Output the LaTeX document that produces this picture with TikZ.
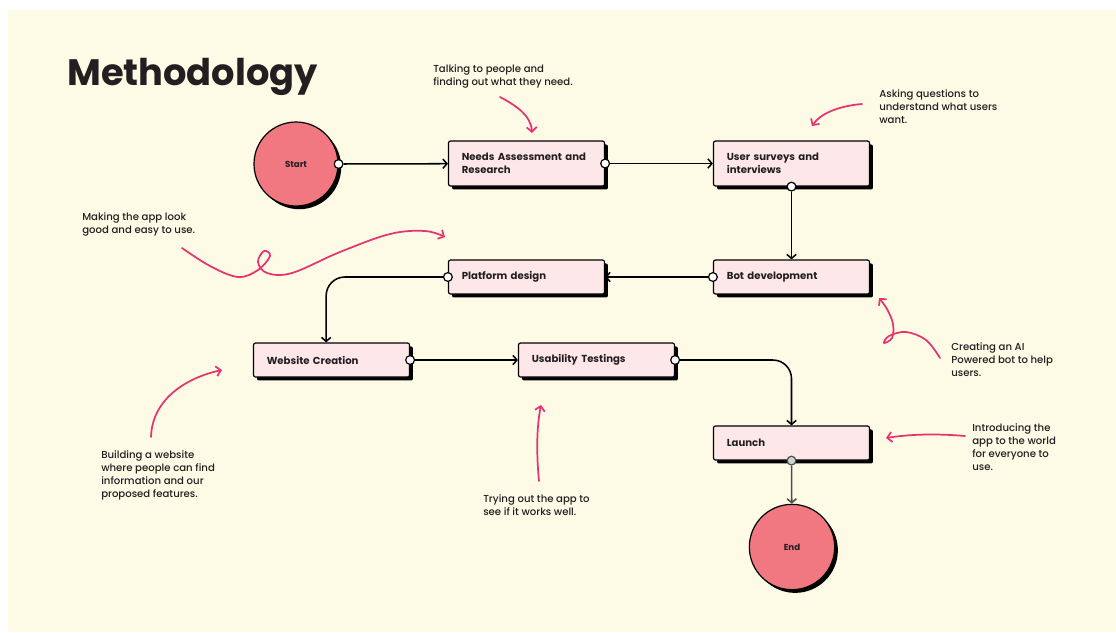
\documentclass[tikz,border=0pt]{standalone}
\usepackage{fontspec}
\setmainfont{Poppins}
\newfontfamily\remfont{Poppins Medium}
\usetikzlibrary{arrows.meta,shadows,positioning}
\definecolor{cream}{RGB}{253,250,230}
\definecolor{salmon}{RGB}{241,120,128}
\definecolor{boxpink}{RGB}{253,231,233}
\definecolor{notepink}{RGB}{230,52,110}
\definecolor{ink}{RGB}{35,31,32}
\tikzset{
  box/.style={draw=black, line width=0.9pt, fill=boxpink, rounded corners=1.5pt,
    text width=97pt, inner xsep=10pt, align=left, text=ink,
    font=\fontsize{7.6}{9.75}\selectfont\bfseries,
    general shadow={fill=black, shadow xshift=2.6pt, shadow yshift=-2.6pt}},
  disc/.style={circle, draw=black, line width=0.9pt, fill=salmon, minimum size=63pt,
    text=ink, font=\fontsize{6.5}{8}\selectfont\bfseries,
    general shadow={fill=black, shadow xshift=2.4pt, shadow yshift=-2.4pt}},
  port/.style={circle, draw=black, fill=white, line width=0.9pt, minimum size=6.6pt, inner sep=0pt},
  flow/.style={draw=black, line width=1.15pt, -{Straight Barb[length=3pt,width=7pt]}},
  note/.style={draw=notepink, line width=1.3pt, line cap=round, -{Straight Barb[length=3.5pt,width=7.5pt]}},
  remark/.style={anchor=north west, inner sep=0pt, align=left, text=ink,
    font=\remfont\fontsize{7.6}{9.75}\selectfont}
}
\begin{document}
\begin{tikzpicture}[x=0.75pt, y=-0.75pt, line join=round]
		% page and background
		\useasboundingbox (0,0) rectangle (1116,632);
		\fill[white] (0,0) rectangle (1116,632);
		\fill[cream] (8,10) rectangle (1116,632);
		\node[anchor=west, inner sep=0pt, text=ink, font=\fontsize{27.6}{30}\selectfont\bfseries] (title) at (67,77) {Methodology};
		% steps
		\node[disc] (start) at (296,164) {Start};
		\node[box, minimum height=33.75pt] (needs) at (526.5,163.5) {Needs Assessment and\\Research};
		\node[box, minimum height=33.75pt] (surveys) at (791.5,163.5) {User surveys and\\interviews};
		\node[box, minimum height=25.5pt] (botdev) at (791.5,277) {Bot development};
		\node[box, minimum height=25.5pt] (platform) at (526.5,277) {Platform design};
		\node[box, minimum height=25.5pt] (website) at (331.5,360) {Website Creation};
		\node[box, minimum height=25.5pt] (usability) at (596.5,360) {Usability Testings};
		\node[box, minimum height=25.5pt] (launch) at (791.5,443) {Launch};
		\node[disc, minimum size=64pt] (finish) at (792,547) {End};
		% ports
		\node[port] (pstart) at (start.east) {};
		\node[port] (pneeds) at (needs.east) {};
		\node[port] (psurveys) at (surveys.south) {};
		\node[port] (pbot) at (botdev.west) {};
		\node[port] (pplat) at (platform.west) {};
		\node[port] (pweb) at (website.east) {};
		\node[port] (pusa) at (usability.east) {};
		\node[port, fill=gray!35, draw=gray!60!black] (plaunch) at (launch.south) {};
		% connectors
		\draw[flow] (pstart) -- (needs);
		\draw[flow] (pneeds) -- (surveys);
		\draw[flow] (psurveys) -- (psurveys |- botdev.north);
		\draw[flow] (pbot) -- (platform);
		\draw[flow, rounded corners=14pt] (pplat) -| ([xshift=-4pt]website.north);
		\draw[flow] (pweb) -- (usability);
		\draw[flow, rounded corners=14pt] (pusa) -| (launch.north);
		\draw[flow, draw=gray!60!black] (plaunch) -- (finish);
		% remarks
		\node[remark] (talk) at (433,64) {Talking to people and\\finding out what they need.};
		\node[remark] (ask) at (879,89) {Asking questions to\\understand what users\\want.};
		\node[remark] (making) at (82,212) {Making the app look\\good and easy to use.};
		\node[remark] (creating) at (951,342) {Creating an AI\\Powered bot to help\\users.};
		\node[remark] (building) at (101,450) {Building a website\\where people can find\\information and our\\proposed features.};
		\node[remark] (trying) at (483,494) {Trying out the app to\\see if it works well.};
		\node[remark] (intro) at (972,423) {Introducing the\\app to the world\\for everyone to\\use.};
		\draw[note] (500,97) .. controls (515,105) and (531,115) .. (532,133);
		\draw[note] (862,104) .. controls (838,106) and (820,114) .. (812,126);
		\draw[note] plot[smooth, tension=0.6] coordinates {(182,248) (210,266) (238,277) (258,270) (270,256) (264,251) (258,262) (267,273) (292,273) (340,252) (390,234) (425,231) (445,237)};
		\draw[note] plot[smooth, tension=0.6] coordinates {(940,358) (926,340) (906,332) (889,336) (884,343) (892,338) (893,324) (887,309) (879,298)};
		\draw[note] (151,437) .. controls (152,400) and (185,378) .. (222,370);
		\draw[note] (539,481) .. controls (536,450) and (537,425) .. (541,405);
		\draw[note] (965,436) .. controls (930,433) and (905,435) .. (886,438);
\end{tikzpicture}
\end{document}
